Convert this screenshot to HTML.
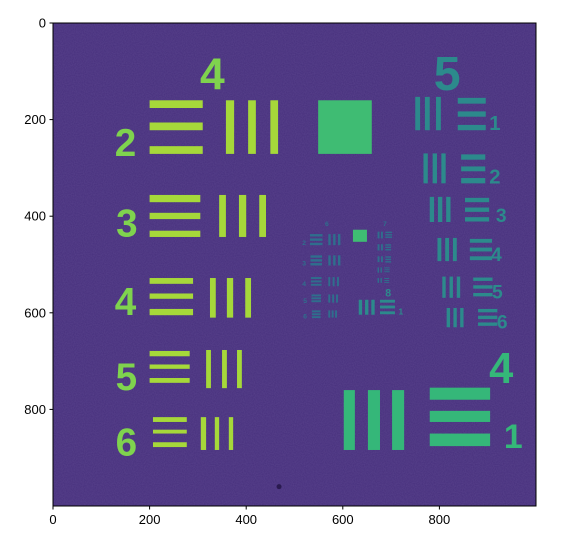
<!DOCTYPE html>
<html><head><meta charset="utf-8"><style>
html,body{margin:0;padding:0;background:#fff;}
svg text{font-family:"Liberation Sans",sans-serif;}
</style></head><body>
<svg id="chart" width="587" height="549" viewBox="0 0 587 549" xmlns="http://www.w3.org/2000/svg">
<defs>
<filter id="noise" x="0" y="0" width="100%" height="100%">
<feTurbulence type="fractalNoise" baseFrequency="0.9" numOctaves="1" seed="3" result="t"/>
<feColorMatrix in="t" type="matrix" values="0 0 0 0 0.28  0 0 0 0 0.2  0 0 0 0 0.5  0 0 0 0.25 0"/>
</filter>
</defs>
<g id="img"></g>
<g id="axes"></g>
</svg>
<script>
const xTicks=[0,200,400,600,800];
const yTicks=[0,200,400,600,800];
const BG='#462f7c', Y='#a6d83a', YG='#7fd34e', G='#35b779', T='#2c8a8c', D='#2f6e8d';
// rects in image (data) coords: [x,y,w,h,color]
const rects=[
 // group 2
 [200,160,110,16,Y],[200,206,110,16,Y],[200,255,110,16,Y],
 [358,160,17,111,Y],[404,160,16,111,Y],[450,160,16,111,Y],
 [549,160,111,111,'#3fbc73'],
 // group 3
 [200,356,105,15,Y],[200,393,105,13,Y],[200,430,105,13,Y],
 [344,356,14,87,Y],[385,356,15,87,Y],[427,356,14,87,Y],
 // group 4
 [200,528,90,12,Y],[200,560,90,11,Y],[200,592,90,13,Y],
 [325,528,12,82,Y],[360,528,13,82,Y],[398,528,12,82,Y],
 // group 5
 [200,679,83,11,Y],[200,707,83,9,Y],[200,735,83,10,Y],
 [317,677,10,79,Y],[350,677,10,79,Y],[381,677,10,79,Y],
 // group 6
 [207,816,70,10,Y],[207,842,70,8,Y],[207,868,70,10,Y],
 [306,816,11,68,Y],[335,816,9,68,Y],[364,816,9,68,Y],
 // big element (right group 4, 1)
 [602,760,23,124,G],[652,760,25,124,G],[702,760,25,124,G],
 [780,755,125,25,G],[780,803,125,23,G],[780,850,125,26,G],
 // right group 5
 [750,153,10,69,T],[770,153,10,69,T],[793,153,10,69,T],[838,155,58,12,T],[838,183,58,11,T],[838,211,58,11,T],
 [767,270,9,62,T],[786,270,9,62,T],[804,270,9,62,T],[845,272,50,11,T],[845,297,50,10,T],[845,321,50,11,T],
 [780,360,9,52,T],[797,360,9,52,T],[814,360,9,52,T],[853,362,50,9,T],[853,382,50,9,T],[853,402,50,9,T],
 [796,445,8,48,T],[812,445,8,48,T],[828,445,8,48,T],[863,447,46,8,T],[863,465,46,8,T],[863,483,46,8,T],
 [806,525,7,44,T],[821,525,7,44,T],[836,525,7,44,T],[870,527,40,7,T],[870,543,40,7,T],[870,559,40,7,T],
 [815,590,7,40,T],[829,590,7,40,T],[843,590,7,40,T],[880,592,40,7,T],[880,606,40,7,T],[880,620,40,7,T],
 // group 6/7 small
 [621,428,29,25,'#3fbc73'],
 [532,437,26,5,D],[532,446,26,5,D],[532,455,26,5,D],[570,437,5,23,D],[580,437,5,23,D],[590,437,5,23,D],
 [533,481,24,5,D],[533,489,24,5,D],[533,497,24,5,D],[570,481,5,21,D],[580,481,5,21,D],[590,481,5,21,D],
 [534,526,22,4,D],[534,533,22,4,D],[534,540,22,4,D],[570,526,4,19,D],[579,526,4,19,D],[588,526,4,19,D],
 [535,562,20,4,D],[535,568,20,4,D],[535,574,20,4,D],[570,562,4,17,D],[578,562,4,17,D],[586,562,4,17,D],
 [536,595,18,4,D],[536,601,18,4,D],[536,607,18,4,D],[570,595,4,15,D],[577,595,4,15,D],[584,595,4,15,D],
 [672,432,4,14,D],[679,432,4,14,D],[688,432,14,3,D],[688,437,14,3,D],[688,442,14,3,D],
 [672,458,4,13,D],[679,458,4,13,D],[688,458,12,3,D],[688,463,12,3,D],[688,468,12,3,D],
 [672,483,4,12,D],[679,483,4,12,D],[688,483,12,3,D],[688,488,12,3,D],[688,493,12,3,D],
 [672,506,3,11,D],[678,506,3,11,D],[686,506,11,2,D],[686,510,11,2,D],[686,514,11,2,D],
 [672,528,3,10,D],[678,528,3,10,D],[686,528,10,2,D],[686,532,10,2,D],[686,536,10,2,D],
 [633,573,7,31,T],[646,573,7,31,T],[659,573,7,31,T],[677,573,31,6,T],[677,585,31,6,T],[677,597,31,6,T]
];
// labels: [text,x,y(baseline),size,color]
const labels=[
 ['4',330,138,92,YG],['2',150,275,80,YG],['3',153,442,80,YG],['4',150,605,80,YG],['5',152,760,80,YG],['6',152,895,80,YG],
 ['5',816,139,100,T],['1',915,222,42,T],['2',915,332,42,T],['3',928,412,40,T],['4',918,493,40,T],['5',920,570,40,T],['6',930,632,40,T],
 ['4',928,745,90,G],['1',953,880,70,G],
 ['6',567,420,14,D],['7',687,420,14,D],['2',520,460,14,D],['3',520,502,14,D],['4',520,545,14,D],['5',522,580,14,D],['6',522,612,14,D],
 ['8',694,566,22,T],['1',720,604,18,T]
];
const X0=53,Y0=23,S=0.483;
const sx=v=>X0+v*S, sy=v=>Y0+v*S;
const NS='http://www.w3.org/2000/svg';
const img=document.getElementById('img'), axes=document.getElementById('axes');
function mk(tag,attrs,parent){const e=document.createElementNS(NS,tag);for(const k in attrs)e.setAttribute(k,attrs[k]);parent.appendChild(e);return e;}
const bg=mk('rect',{x:sx(0),y:sy(0),width:1000*S,height:1000*S,fill:BG},img);


const nz=mk('rect',{x:sx(0),y:sy(0),width:1000*S,height:1000*S,filter:'url(#noise)'},img);


rects.forEach(r=>{
 const e=mk('rect',{x:sx(r[0]),y:sy(r[1]),width:r[2]*S,height:r[3]*S,fill:r[4]},img);
 
 
});
labels.forEach(l=>{
 const e=mk('text',{x:sx(l[1]),y:sy(l[2]),'font-size':l[3]*S,'font-weight':'bold',fill:l[4],'text-anchor':'middle'},img);
 e.textContent=l[0];
 
 
});
const dot=mk('circle',{cx:sx(468),cy:sy(960),r:2.5,fill:'#2a1a50'},img);


const frame=mk('rect',{x:sx(0),y:sy(0),width:1000*S,height:1000*S,fill:'none',stroke:'#000','stroke-width':1},axes);


xTicks.forEach(t=>{
 const ln=mk('line',{x1:sx(t),x2:sx(t),y1:sy(1000),y2:sy(1000)+3.5,stroke:'#000'},axes);
 
 
 const tx=mk('text',{x:sx(t),y:sy(1000)+18,'font-size':13,'text-anchor':'middle',fill:'#000'},axes);
 tx.textContent=t;
 
 
});
yTicks.forEach(t=>{
 const ln=mk('line',{x1:sx(0)-3.5,x2:sx(0),y1:sy(t),y2:sy(t),stroke:'#000'},axes);
 
 
 const tx=mk('text',{x:sx(0)-7,y:sy(t)+4.5,'font-size':13,'text-anchor':'end',fill:'#000'},axes);
 tx.textContent=t;
 
 
});
</script>
</body></html>
